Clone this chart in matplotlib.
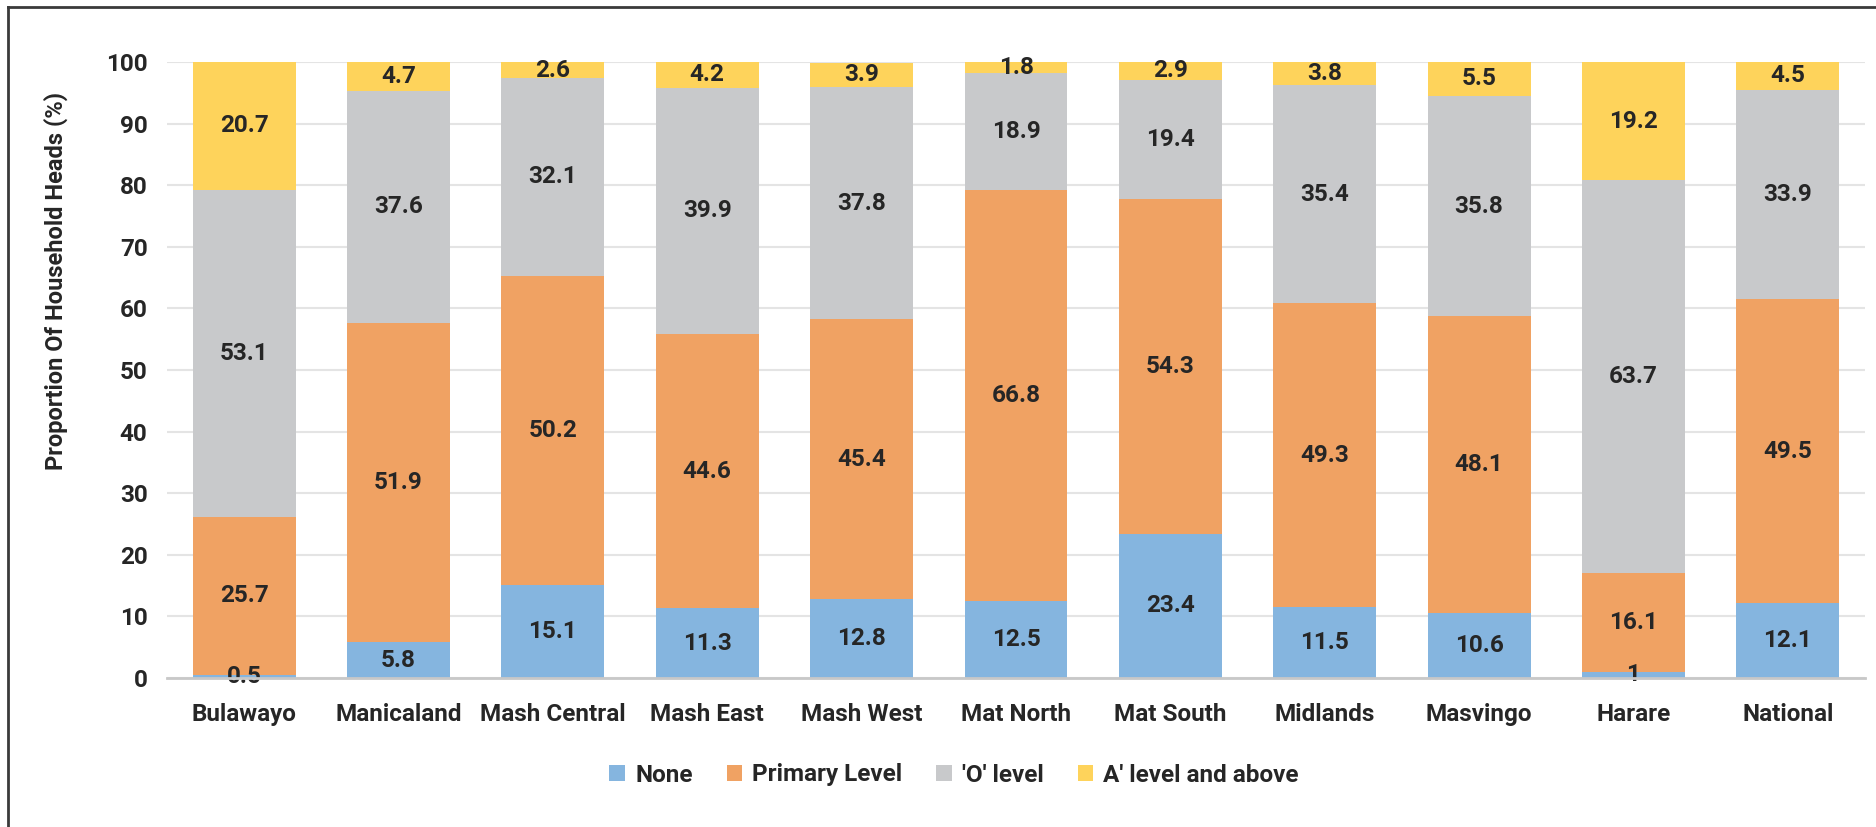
import matplotlib
matplotlib.use("Agg")
import matplotlib.pyplot as plt
from matplotlib.lines import Line2D
from matplotlib.patches import Patch
import numpy as np

plt.rcParams['font.family'] = ['Roboto', 'DejaVu Sans']

regions = ["Bulawayo", "Manicaland", "Mash Central", "Mash East", "Mash West",
           "Mat North", "Mat South", "Midlands", "Masvingo", "Harare", "National"]
series_names = ["None", "Primary Level", "'O' level", "A' level and above"]
none_vals = [0.5, 5.8, 15.1, 11.3, 12.8, 12.5, 23.4, 11.5, 10.6, 1, 12.1]
primary_vals = [25.7, 51.9, 50.2, 44.6, 45.4, 66.8, 54.3, 49.3, 48.1, 16.1, 49.5]
o_level_vals = [53.1, 37.6, 32.1, 39.9, 37.8, 18.9, 19.4, 35.4, 35.8, 63.7, 33.9]
a_level_vals = [20.7, 4.7, 2.6, 4.2, 3.9, 1.8, 2.9, 3.8, 5.5, 19.2, 4.5]
y_ticks = [0, 10, 20, 30, 40, 50, 60, 70, 80, 90, 100]

colors = ["#85B5DF", "#F0A263", "#C8C9CB", "#FED35B"]
text_color = "#262626"
fs = 17.5

W, H = 1876, 827
fig = plt.figure(figsize=(W / 100, H / 100), dpi=100)
ax = fig.add_axes([167 / W, 1 - 678 / H, (1865 - 167) / W, (678 - 62) / H])

x = np.arange(len(regions))
bottom = np.zeros(len(regions))
for vals, col in zip([none_vals, primary_vals, o_level_vals, a_level_vals], colors):
    vals = np.array(vals, dtype=float)
    ax.bar(x, vals, width=0.667, bottom=bottom, color=col, zorder=2, linewidth=0)
    for xi, b, v in zip(x, bottom, vals):
        ax.text(xi, b + v / 2, f"{v:g}", ha="center", va="center",
                fontsize=fs, fontweight="bold", color=text_color, zorder=3)
    bottom += vals

ax.set_xlim(-0.5, len(regions) - 0.5)
ax.set_ylim(0, 100)
ax.set_yticks(y_ticks)
ax.set_yticklabels([str(t) for t in y_ticks], fontsize=fs, fontweight="bold",
                   color=text_color)
ax.set_xticks(x)
ax.set_xticklabels(regions, fontsize=fs, fontweight="bold", color=text_color)
ax.tick_params(axis="both", length=0)
ax.tick_params(axis="x", pad=18)
ax.tick_params(axis="y", pad=14)
ax.yaxis.grid(True, color="#E4E4E4", linewidth=1.5, zorder=0)
ax.set_axisbelow(True)
for side in ["top", "right", "left"]:
    ax.spines[side].set_visible(False)
ax.spines["bottom"].set_color("#C8C8C8")
ax.spines["bottom"].set_linewidth(2)
ax.spines["bottom"].set_zorder(4)

ax.set_ylabel("Proportion Of Household Heads (%)", fontsize=17, fontweight="bold",
              color=text_color)
ax.yaxis.set_label_coords(-(167 - 68) / (1865 - 167), 0.644)

handles = [Patch(facecolor=c, edgecolor="none") for c in colors]
leg = fig.legend(handles, series_names, loc="center", bbox_to_anchor=(954 / W, 1 - 775 / H),
                 ncol=4, frameon=False, handlelength=0.65, handleheight=0.65,
                 handletextpad=0.4, columnspacing=1.4,
                 prop={"family": ["Roboto", "DejaVu Sans"], "weight": "bold", "size": fs})
for t in leg.get_texts():
    t.set_color(text_color)

# frame around the figure (left and top edges)
fig.add_artist(Line2D([8 / W, 8 / W], [0, 1 - 7 / H], transform=fig.transFigure,
                      color="#3A3A3A", linewidth=2))
fig.add_artist(Line2D([8 / W, 1], [1 - 7 / H, 1 - 7 / H], transform=fig.transFigure,
                      color="#3A3A3A", linewidth=2))

fig.savefig("out.png", dpi=100, facecolor="white")
